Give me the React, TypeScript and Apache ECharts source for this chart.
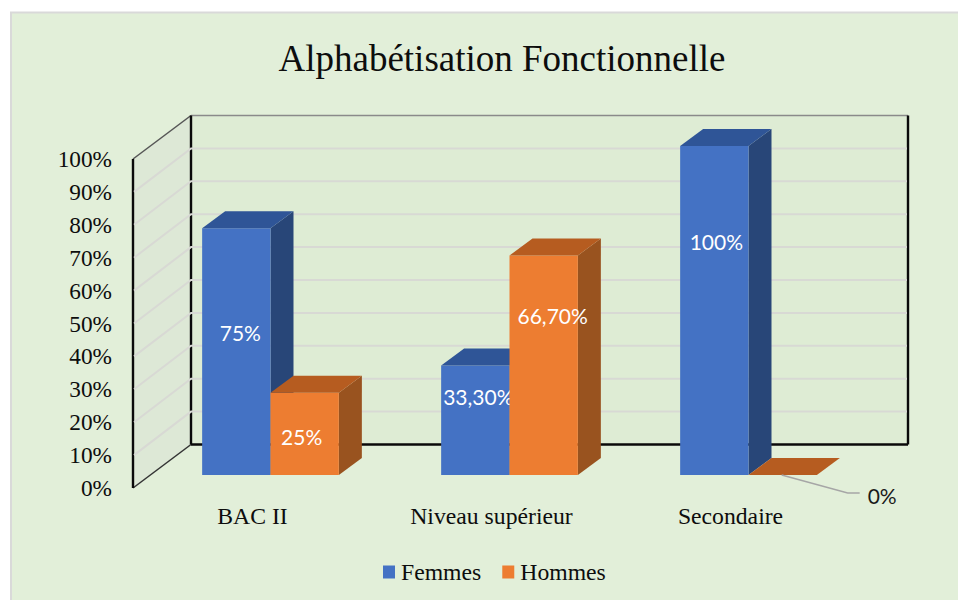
import React, { useEffect, useRef } from "react";
import * as echarts from "echarts";

const titleText = "Alphabétisation Fonctionnelle";
const categories = ["BAC II", "Niveau supérieur", "Secondaire"];
const femmes = [75, 33.3, 100];
const hommes = [25, 66.7, 0];
const femmesLabels = ["75%", "33,30%", "100%"];
const hommesLabels = ["25%", "66,70%", "0%"];
const gridTicks = [10, 20, 30, 40, 50, 60, 70, 80, 90];

// Layout constants
const WALL_DX = 58, WALL_DY = -43.5;
const FRONT_DX = 18, FRONT_DY = -13;
const BAR_DX = 23, BAR_DY = -17;
const femmesLabelRise = [19, 24, 69];
const hommesLabelRise = [-3, 50, 0];
const femmesLabelShift = [4, 3, 2];
const hommesLabelShift = [-3, 9, 0];
const FONT_SERIF = "'Liberation Serif', 'Times New Roman', serif";
const FONT_SANS = "Lato, 'Open Sans', sans-serif";

const palette = {
  blue: { front: "#4472c4", top: "#2f5597", side: "#284678" },
  orange: { front: "#ed7d31", top: "#b65c20", side: "#99531f" },
};

function barSeries(name: string, values: number[], labels: string[], side: 0 | 1, colors: any, rise: number[], shift: number[]) {
  return {
    type: "custom",
    name,
    z: 5 + side,
    itemStyle: { color: colors.front },
    data: values.map((v, i) => [i, v]),
    encode: { x: 0, y: 1 },
    silent: true,
    renderItem: (params: any, api: any) => {
      const i = api.value(0);
      const v = api.value(1);
      const w = api.size([1, 0])[0] * 0.286;
      const base = api.coord([i, 0]);
      const top = api.coord([i, v]);
      const x0 = base[0] + FRONT_DX + (side === 0 ? -w : 0);
      const x1 = x0 + w;
      const yb = base[1] + FRONT_DY;
      const yt = top[1] + FRONT_DY;
      const children: any[] = [];
      if (v > 0) {
        children.push({
          type: "polygon",
          shape: { points: [[x1, yb], [x1 + BAR_DX, yb + BAR_DY], [x1 + BAR_DX, yt + BAR_DY], [x1, yt]] },
          style: { fill: colors.side },
        });
        children.push({
          type: "rect",
          shape: { x: x0, y: yt, width: w, height: yb - yt },
          style: { fill: colors.front },
        });
      }
      children.push({
        type: "polygon",
        shape: { points: [[x0, yt], [x0 + BAR_DX, yt + BAR_DY], [x1 + BAR_DX, yt + BAR_DY], [x1, yt]] },
        style: { fill: colors.top },
      });
      if (v > 0) {
        children.push({
          type: "text",
          style: {
            text: labels[i],
            x: (x0 + x1) / 2 + shift[i],
            y: (yt + yb) / 2 - rise[i],
            align: "center",
            verticalAlign: "middle",
            fill: "#ffffff",
            font: `21px ${FONT_SANS}`,
          },
        });
      } else {
        const cx = (x0 + x1) / 2;
        children.push({
          type: "polyline",
          shape: { points: [[cx - 1, yb], [cx + 65, yb + 18], [cx + 77, yb + 18]] },
          style: { stroke: "#a6a6a6", lineWidth: 1.5, fill: "none" },
        });
        children.push({
          type: "text",
          style: {
            text: labels[i],
            x: cx + 85,
            y: yb + 20,
            align: "left",
            verticalAlign: "middle",
            fill: "#1a1a1a",
            font: `21px ${FONT_SANS}`,
          },
        });
      }
      return { type: "group", children };
    },
  };
}

export default function App() {
  const ref = useRef<HTMLDivElement>(null);
  useEffect(() => {
    const chart = echarts.init(ref.current!, undefined, { renderer: "svg" });
    chart.setOption({
      animation: false,
      backgroundColor: "#ffffff",
      graphic: [
        {
          type: "rect",
          z: -10,
          shape: { x: 11, y: 12.5, width: 960, height: 600 },
          style: { fill: "#e2efd9", stroke: "#d9d9d9", lineWidth: 2 },
        },
      ],
      title: {
        text: titleText,
        left: 497,
        top: 35,
        textAlign: "center",
        textStyle: { fontFamily: FONT_SERIF, fontSize: 37, fontWeight: "normal", color: "#0d0d0d" },
      },
      legend: {
        left: 378,
        top: 555,
        itemWidth: 12,
        itemHeight: 13,
        itemGap: 21,
        icon: "rect",
        selectedMode: false,
        data: ["Femmes", "Hommes"],
        textStyle: { fontFamily: FONT_SERIF, fontSize: 23.7, color: "#0d0d0d", padding: [0, 0, 0, 1] },
      },
      grid: { left: 133, top: 159, width: 717, height: 329 },
      xAxis: {
        type: "category",
        data: categories,
        axisLine: { show: false },
        axisTick: { show: false },
        axisLabel: { margin: 16, fontFamily: FONT_SERIF, fontSize: 23.7, color: "#0d0d0d" },
      },
      yAxis: {
        type: "value",
        min: 0,
        max: 100,
        interval: 10,
        axisLine: { show: false },
        axisTick: { show: false },
        splitLine: { show: false },
        axisLabel: { margin: 21, formatter: "{value}%", fontFamily: FONT_SERIF, fontSize: 23.3, color: "#0d0d0d" },
      },
      series: [
        {
          type: "custom",
          name: "walls",
          z: 1,
          silent: true,
          data: [[0, 0]],
          encode: { x: 0, y: 1 },
          renderItem: (params: any, api: any) => {
            const cs = params.coordSys;
            const fl = cs.x, fr = cs.x + cs.width, ft = cs.y, fb = cs.y + cs.height;
            const bl = fl + WALL_DX, br = fr + WALL_DX, bt = ft + WALL_DY, bb = fb + WALL_DY;
            const black = { stroke: "#0a0a0a", lineWidth: 2.4 };
            return {
              type: "group",
              children: [
                { type: "polygon", shape: { points: [[fl, fb], [bl, bb], [bl, bt], [fl, ft]] }, style: { fill: "#dde8d6" } },
                { type: "rect", shape: { x: bl, y: bt, width: br - bl, height: bb - bt }, style: { fill: "#deecd4" } },
                { type: "line", shape: { x1: fl, y1: ft, x2: bl, y2: bt }, style: { stroke: "#555555", lineWidth: 1.5 } },
                { type: "line", shape: { x1: bl, y1: bt, x2: br, y2: bt }, style: { stroke: "#8a8a8a", lineWidth: 1.5 } },
                { type: "line", shape: { x1: fl, y1: fb, x2: bl, y2: bb }, style: { stroke: "#333333", lineWidth: 1.5 } },
                { type: "line", shape: { x1: fl, y1: ft, x2: fl, y2: fb }, style: black },
                { type: "line", shape: { x1: bl, y1: bt, x2: bl, y2: bb }, style: black },
                { type: "line", shape: { x1: br, y1: bt, x2: br, y2: bb }, style: black },
                { type: "line", shape: { x1: bl, y1: bb, x2: br, y2: bb }, style: black },
              ],
            };
          },
        },
        {
          type: "custom",
          name: "ticks",
          z: 2,
          silent: true,
          data: gridTicks.map((t) => [0, t]),
          encode: { x: 0, y: 1 },
          renderItem: (params: any, api: any) => {
            const cs = params.coordSys;
            const y = api.coord([0, api.value(1)])[1];
            const bx = cs.x + WALL_DX;
            const by = y + WALL_DY;
            return {
              type: "polyline",
              shape: { points: [[cs.x + 1, y], [bx, by], [cs.x + cs.width + WALL_DX - 1, by]] },
              style: { stroke: "#d8d9d4", lineWidth: 2, fill: "none" },
            };
          },
        },
        barSeries("Femmes", femmes, femmesLabels, 0, palette.blue, femmesLabelRise, femmesLabelShift),
        barSeries("Hommes", hommes, hommesLabels, 1, palette.orange, hommesLabelRise, hommesLabelShift),
      ],
    });
    return () => chart.dispose();
  }, []);
  return <div ref={ref} style={{ position: "absolute", left: 0, top: 0, width: 958, height: 600 }} />;
}
